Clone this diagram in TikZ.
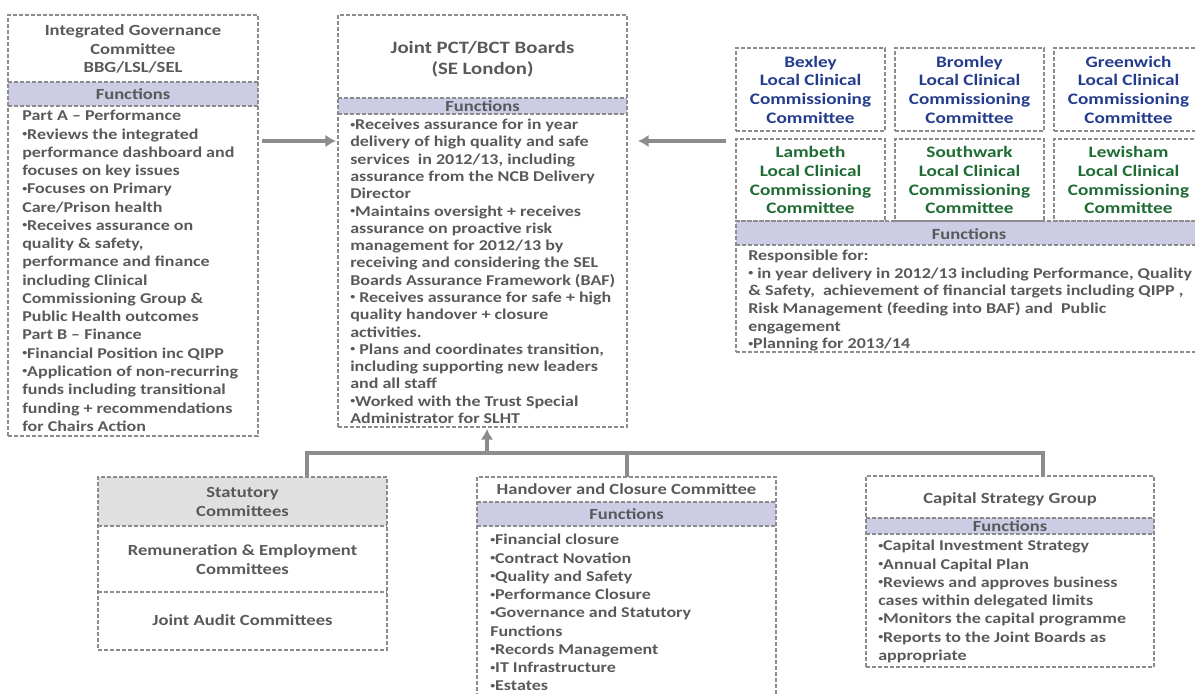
\documentclass[tikz,border=0pt]{standalone}
\usepackage{fontspec}
\setmainfont{Carlito}[FakeStretch=1.2]
\usetikzlibrary{arrows.meta,calc}
\definecolor{txt}{HTML}{595959}
\definecolor{lav}{HTML}{CCCCE5}
\definecolor{dsh}{HTML}{8C8C8C}
\definecolor{blu}{HTML}{243C8C}
\definecolor{grn}{HTML}{1E6B34}
\definecolor{hdr}{HTML}{E0E0E0}
\definecolor{con}{HTML}{8C8C8C}
\newcommand\bu{\raisebox{0.35ex}{\scalebox{0.55}{•}}}
\tikzset{
  box/.style={draw=dsh, line width=0.8pt, dash pattern=on 3pt off 1.5pt, anchor=north west, inner sep=0pt, outer sep=0pt},
  dl/.style={draw=dsh, line width=0.8pt, dash pattern=on 3pt off 1.5pt},
  bodyt/.style={anchor=north west, inner sep=0pt, align=left, text=txt, font=\bfseries\fontsize{11.25}{13.7}\selectfont},
  titlet/.style={inner sep=0pt, align=center, text=txt, font=\bfseries\fontsize{11.6}{13.9}\selectfont},
  bigt/.style={inner sep=0pt, align=center, text=txt, font=\bfseries\fontsize{13}{15.8}\selectfont},
  lcct/.style={inner sep=0pt, align=center, font=\bfseries\fontsize{12}{14.1}\selectfont},
  fnt/.style={inner sep=0pt, text=txt, font=\bfseries\fontsize{11.6}{13.9}\selectfont},
  arr/.style={draw=con, line width=3pt, -{Latex[length=8pt,width=9.5pt]}},
  conn/.style={draw=con, line width=3pt}
}
\begin{document}
\begin{tikzpicture}[x=0.75pt,y=-0.75pt]
\path[use as bounding box] (0,0) rectangle (1195,693);
% fills
\fill[lav] (8,82) rectangle (258,106);
\fill[lav] (338,98) rectangle (627,114);
\fill[lav] (736,221) rectangle (1200,245);
\fill[hdr] (98,477) rectangle (387,526);
\fill[lav] (477,502) rectangle (776,526);
\fill[lav] (866,518) rectangle (1154,534);
% boxes
\node[box, minimum width=250*0.75pt, minimum height=421*0.75pt] (igc) at (8,15) {};
\node[box, minimum width=289*0.75pt, minimum height=412*0.75pt] (joint) at (338,15) {};
\node[box, minimum width=149*0.75pt, minimum height=83*0.75pt] (b1) at (736,48) {};
\node[box, minimum width=149*0.75pt, minimum height=83*0.75pt] (b2) at (895,48) {};
\node[box, minimum width=149*0.75pt, minimum height=83*0.75pt] (b3) at (1054,48) {};
\node[box, minimum width=149*0.75pt, minimum height=82*0.75pt] (b4) at (736,139) {};
\node[box, minimum width=149*0.75pt, minimum height=82*0.75pt] (b5) at (895,139) {};
\node[box, minimum width=149*0.75pt, minimum height=82*0.75pt] (b6) at (1054,139) {};
\node[box, minimum width=470*0.75pt, minimum height=131*0.75pt] (lcc) at (736,221) {};
\node[box, minimum width=289*0.75pt, minimum height=173*0.75pt] (stat) at (98,477) {};
\node[box, minimum width=299*0.75pt, minimum height=230*0.75pt] (hand) at (477,477) {};
\node[box, minimum width=288*0.75pt, minimum height=191*0.75pt] (cap) at (866,476) {};
% dividers
\draw[dl] (8,82) -- (258,82) (8,106) -- (258,106);
\draw[dl] (338,98) -- (627,98) (338,114) -- (627,114);
\draw[dl] (736,245) -- (1200,245);
\draw[dl] (98,526) -- (387,526) (98,592) -- (387,592);
\draw[dl] (477,502) -- (776,502) (477,526) -- (776,526);
\draw[dl] (866,518) -- (1154,518) (866,534) -- (1154,534);
% IGC texts
\node[titlet] (igct) at (133,50.5) {\strut Integrated Governance\\Committee\\BBG/LSL/SEL\strut};
\node[fnt] (igcf) at (133,94) {Functions};
\node[bodyt] (igcb) at (22,107.7) {\strut Part A – Performance\\
\bu Reviews the integrated\\
performance dashboard and\\
focuses on key issues\\
\bu Focuses on Primary\\
Care/Prison health\\
\bu Receives assurance on\\
quality \& safety,\\
performance and finance\\
including Clinical\\
Commissioning Group \&\\
Public Health outcomes\\
Part B – Finance\\
\bu Financial Position inc QIPP\\
\bu Application of non-recurring\\
funds including transitional\\
funding + recommendations\\
for Chairs Action};
% Joint texts
\node[bigt] (jointt) at (482.5,59.5) {\strut Joint PCT/BCT Boards\\(SE London)\strut};
\node[fnt] (jointf) at (482.5,106) {Functions};
\node[bodyt, font=\bfseries\fontsize{11.25}{12.97}\selectfont] (jointb) at (350,117.2) {\strut \bu Receives assurance for in year\\
delivery of high quality and safe\\
services~ in 2012/13, including\\
assurance from the NCB Delivery\\
Director\\
\bu Maintains oversight + receives\\
assurance on proactive risk\\
management for 2012/13 by\\
receiving and considering the SEL\\
Boards Assurance Framework (BAF)\\
\bu{} Receives assurance for safe + high\\
quality handover + closure\\
activities.\\
\bu{} Plans and coordinates transition,\\
including supporting new leaders\\
and all staff\\
\bu Worked with the Trust Special\\
Administrator for SLHT};
% LCC texts
\node[lcct, text=blu] (t1) at (810.5,91.5) {\strut Bexley\\Local Clinical\\Commissioning\\Committee\strut};
\node[lcct, text=blu] (t2) at (969.5,91.5) {\strut Bromley\\Local Clinical\\Commissioning\\Committee\strut};
\node[lcct, text=blu] (t3) at (1128.5,91.5) {\strut Greenwich\\Local Clinical\\Commissioning\\Committee\strut};
\node[lcct, text=grn] (t4) at (810.5,182) {\strut Lambeth\\Local Clinical\\Commissioning\\Committee\strut};
\node[lcct, text=grn] (t5) at (969.5,182) {\strut Southwark\\Local Clinical\\Commissioning\\Committee\strut};
\node[lcct, text=grn] (t6) at (1128.5,182) {\strut Lewisham\\Local Clinical\\Commissioning\\Committee\strut};
\node[fnt] (lccf) at (969,234) {Functions};
\node[bodyt, font=\bfseries\fontsize{11.25}{13.2}\selectfont] (lccb) at (748,248.2) {\strut Responsible for:\\
\bu{} in year delivery in 2012/13 including Performance, Quality\\
\& Safety,~ achievement of financial targets including QIPP ,\\
Risk Management (feeding into BAF) and~ Public\\
engagement\\
\bu Planning for 2013/14};
% Statutory
\node[titlet] (statt) at (242.5,503.5) {\strut Statutory\\Committees\strut};
\node[titlet] (remt) at (242.5,561.5) {\strut Remuneration \& Employment\\Committees\strut};
\node[titlet] (audt) at (242.5,622) {\strut Joint Audit Committees};
% Handover
\node[titlet] (handt) at (626.5,491) {\strut Handover and Closure Committee};
\node[fnt] (handf) at (626.5,514) {Functions};
\node[bodyt] (handb) at (490,531.7) {\strut \bu Financial closure\\
\bu Contract Novation\\
\bu Quality and Safety\\
\bu Performance Closure\\
\bu Governance and Statutory\\
Functions\\
\bu Records Management\\
\bu IT Infrastructure\\
\bu Estates};
% Capital
\node[titlet] (capt) at (1010,500) {\strut Capital Strategy Group};
\node[fnt] (capf) at (1010,526) {Functions};
\node[bodyt] (capb) at (878,537.7) {\strut \bu Capital Investment Strategy\\
\bu Annual Capital Plan\\
\bu Reviews and approves business\\
cases within delegated limits\\
\bu Monitors the capital programme\\
\bu Reports to the Joint Boards as\\
appropriate};
% connectors
\draw[arr] ($(igc.north east)+(4,126)$) -- ($(joint.north west)+(-2,126)$);
\draw[arr] ($(b1.north west)+(-10,93)$) -- ($(joint.north east)+(11,126)$);
\coordinate (bus) at ($(stat.north west)+(209,-24)$);
\draw[conn] ($(stat.north west)+(209,0)$) -- (bus) -| ($(cap.north west)+(177,0)$);
\draw[conn] (hand.north) -- (hand.north |- bus);
\coordinate (jin) at ($(joint.south)+(4.5,2)$);
\draw[arr] (jin |- bus) -- (jin);
\end{tikzpicture}
\end{document}
